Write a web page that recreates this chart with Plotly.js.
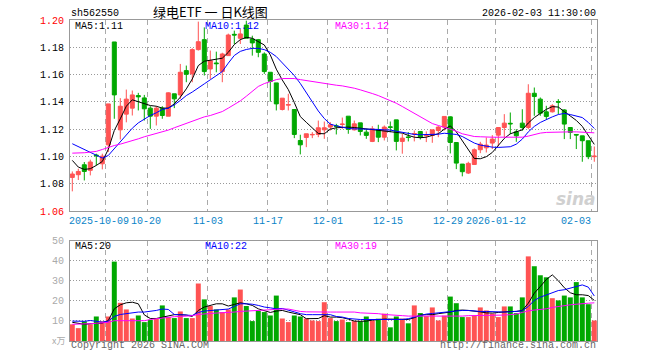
<!DOCTYPE html>
<html><head><meta charset="utf-8">
<script src="https://cdn.plot.ly/plotly-3.0.1.min.js"></script>
<style>html,body{margin:0;padding:0;background:#fff}#chart{width:660px;height:360px}</style>
</head><body><div id="chart"></div>
<script>
// ---------------- data ----------------
const dateIdx    = [6, 13, 23, 33, 43, 53, 63, 71, 87];
const dateLabels = ['2025-10-09','10-20','11-03','11-17','12-01','12-15','12-29','2026-01-12','02-03'];

// R = red (up) candle, G = green (down) candle
const dirs = 'RRGRGRRGRRRGGGRGRGRGRRGRGRRGRGGGGGGRRGGRRRRRGRGRGGRGRGGRGRGRRRRGGGRRRRRRRGGGRGGGRGGGGGGR';

const open = [
1.0846,1.0866,1.0939,1.0898,1.1010,1.0946,1.1085,1.1839,1.1195,1.1310,
1.1354,1.1446,1.1429,1.1354,1.1295,1.1354,1.1295,1.1459,1.1451,1.1629,
1.1605,1.1783,1.1856,1.1641,1.1685,1.1622,1.1739,1.1895,1.1866,1.1963,
1.1861,1.1856,1.1751,1.1617,1.1539,1.1344,1.1376,1.1344,1.1117,1.1139,
1.1158,1.1161,1.1195,1.1215,1.1224,1.1234,1.1295,1.1195,1.1246,1.1178,
1.1110,1.1195,1.1141,1.1217,1.1268,1.1110,1.1143,1.1164,1.1183,1.1152,
1.1154,1.1190,1.1215,1.1290,1.1102,1.0944,1.0878,1.0941,1.1049,1.1063,
1.1098,1.1156,1.1212,1.1243,1.1180,1.1244,1.1212,1.1463,1.1420,1.1327,
1.1327,1.1402,1.1341,1.1212,1.1161,1.1151,1.1115,1.0998];
const close = [
1.0871,1.0890,1.0890,1.0959,1.1005,1.1002,1.1385,1.1451,1.1368,1.1420,
1.1451,1.1437,1.1349,1.1295,1.1354,1.1300,1.1466,1.1422,1.1617,1.1602,
1.1783,1.1841,1.1622,1.1702,1.1680,1.1751,1.1890,1.1890,1.1898,1.1866,
1.1832,1.1763,1.1622,1.1549,1.1385,1.1427,1.1380,1.1161,1.1085,1.1166,
1.1161,1.1210,1.1210,1.1232,1.1220,1.1237,1.1198,1.1239,1.1183,1.1154,
1.1202,1.1141,1.1215,1.1213,1.1110,1.1134,1.1139,1.1168,1.1141,1.1156,
1.1195,1.1215,1.1293,1.1102,1.0951,1.0888,1.0949,1.1049,1.1090,1.1083,
1.1127,1.1212,1.1244,1.1239,1.1151,1.1212,1.1463,1.1439,1.1317,1.1293,
1.1371,1.1398,1.1237,1.1176,1.1157,1.1115,1.0998,1.1002];
const high = [
1.0890,1.0910,1.0959,1.0976,1.1020,1.1020,1.1385,1.1839,1.1427,1.1490,
1.1483,1.1466,1.1451,1.1368,1.1368,1.1368,1.1470,1.1459,1.1678,1.1666,
1.1793,1.1988,1.1946,1.1776,1.1768,1.1760,1.1900,1.1922,1.1934,1.1995,
1.1885,1.1861,1.1763,1.1617,1.1539,1.1427,1.1459,1.1344,1.1159,1.1166,
1.1178,1.1263,1.1256,1.1251,1.1239,1.1285,1.1295,1.1263,1.1246,1.1202,
1.1222,1.1232,1.1227,1.1256,1.1268,1.1166,1.1178,1.1190,1.1183,1.1183,
1.1195,1.1222,1.1293,1.1293,1.1102,1.0944,1.0961,1.1059,1.1107,1.1139,
1.1156,1.1212,1.1310,1.1322,1.1200,1.1346,1.1529,1.1505,1.1432,1.1371,
1.1383,1.1420,1.1346,1.1212,1.1161,1.1151,1.1115,1.1073];
const low = [
1.0744,1.0827,1.0824,1.0861,1.0934,1.0905,1.1032,1.1276,1.1124,1.1250,
1.1300,1.1337,1.1263,1.1202,1.1227,1.1276,1.1295,1.1354,1.1422,1.1544,
1.1544,1.1776,1.1593,1.1568,1.1617,1.1544,1.1739,1.1824,1.1824,1.1866,
1.1739,1.1727,1.1605,1.1402,1.1337,1.1337,1.1337,1.1134,1.1015,1.1068,
1.1134,1.1141,1.1129,1.1190,1.1161,1.1202,1.1166,1.1190,1.1154,1.1129,
1.1105,1.1105,1.1117,1.1178,1.1044,1.1020,1.1110,1.1110,1.1124,1.1105,
1.1100,1.1141,1.1190,1.1022,1.0907,1.0854,1.0871,1.0937,1.1024,1.1029,
1.1054,1.1073,1.1139,1.1163,1.1107,1.1188,1.1200,1.1298,1.1298,1.1273,
1.1322,1.1310,1.1127,1.1127,1.1054,1.0961,1.0980,1.0961];
const ma5 = [
1.0971,1.0922,1.0905,1.0910,1.0934,1.0963,1.1052,1.1190,1.1276,1.1368,
1.1415,1.1402,1.1385,1.1373,1.1368,1.1354,1.1354,1.1385,1.1434,1.1495,
1.1568,1.1666,1.1698,1.1707,1.1715,1.1720,1.1763,1.1820,1.1856,1.1873,
1.1866,1.1841,1.1817,1.1744,1.1640,1.1560,1.1490,1.1395,1.1292,1.1250,
1.1210,1.1168,1.1166,1.1200,1.1210,1.1215,1.1215,1.1212,1.1207,1.1202,
1.1195,1.1190,1.1185,1.1183,1.1178,1.1171,1.1154,1.1141,1.1137,1.1141,
1.1154,1.1166,1.1200,1.1224,1.1180,1.1115,1.1041,1.0985,1.0983,1.0998,
1.1029,1.1078,1.1132,1.1166,1.1178,1.1195,1.1245,1.1285,1.1315,1.1345,
1.1365,1.1362,1.1329,1.1297,1.1264,1.1220,1.1150,1.1088];
const ma10 = [
1.1093,1.1073,1.1051,1.1032,1.1007,1.0988,1.1007,1.1056,1.1105,1.1154,
1.1207,1.1246,1.1276,1.1300,1.1320,1.1344,1.1354,1.1378,1.1410,1.1446,
1.1472,1.1505,1.1532,1.1562,1.1590,1.1622,1.1684,1.1740,1.1770,1.1784,
1.1792,1.1792,1.1783,1.1763,1.1732,1.1688,1.1641,1.1593,1.1535,1.1465,
1.1395,1.1333,1.1278,1.1237,1.1224,1.1215,1.1205,1.1202,1.1202,1.1202,
1.1200,1.1198,1.1195,1.1193,1.1185,1.1176,1.1166,1.1161,1.1159,1.1159,
1.1159,1.1163,1.1170,1.1166,1.1161,1.1146,1.1120,1.1098,1.1083,1.1073,
1.1068,1.1066,1.1066,1.1071,1.1090,1.1127,1.1180,1.1220,1.1249,1.1271,
1.1290,1.1307,1.1315,1.1307,1.1295,1.1285,1.1249,1.1205];
const ma30 = [
1.1024,1.1024,1.1027,1.1032,1.1037,1.1051,1.1068,1.1080,1.1090,1.1102,
1.1115,1.1129,1.1144,1.1156,1.1166,1.1178,1.1193,1.1210,1.1227,1.1244,
1.1261,1.1276,1.1290,1.1300,1.1315,1.1329,1.1354,1.1378,1.1407,1.1441,
1.1480,1.1513,1.1534,1.1551,1.1563,1.1571,1.1573,1.1571,1.1563,1.1556,
1.1546,1.1539,1.1532,1.1527,1.1522,1.1517,1.1510,1.1500,1.1488,1.1476,
1.1461,1.1446,1.1429,1.1412,1.1390,1.1366,1.1341,1.1312,1.1285,1.1261,
1.1241,1.1227,1.1214,1.1200,1.1185,1.1166,1.1154,1.1146,1.1144,1.1141,
1.1141,1.1141,1.1141,1.1141,1.1141,1.1141,1.1149,1.1161,1.1171,1.1176,
1.1178,1.1180,1.1180,1.1180,1.1180,1.1178,1.1176,1.1173];
// volume in 万
const volume = [
8.3,6.4,9.8,8.3,12.2,9.8,12.2,39.5,19.0,15.7,
11.2,12.7,9.4,10.5,11.1,17.7,11.9,11.4,14.7,11.4,
11.4,28.6,20.7,17.4,15.7,14.4,15.7,21.7,25.6,17.4,
9.9,15.0,14.4,12.7,22.6,11.2,9.4,12.7,12.2,11.2,
10.2,9.9,19.3,11.4,9.9,10.7,9.4,9.9,9.8,12.2,
10.2,11.1,13.6,6.8,12.2,11.1,8.8,17.7,13.9,12.4,
16.7,10.2,12.6,22.1,18.8,11.9,11.9,12.6,16.7,15.2,
13.6,11.9,17.2,17.2,13.9,21.7,42.1,37.2,32.7,31.7,
21.3,20.2,22.6,21.7,29.3,21.7,18.3,10.2];
const vma5 = [
9.3,8.8,8.3,8.6,8.9,8.9,10.2,16.0,18.0,19.0,
19.3,18.5,13.0,11.2,11.2,11.9,12.6,13.1,13.1,12.9,
12.2,15.2,16.9,17.7,18.5,18.5,17.4,18.2,19.0,18.5,
17.7,16.0,15.2,14.2,14.9,15.2,14.4,13.6,13.1,11.1,
11.1,11.2,12.6,11.9,11.9,11.6,10.9,9.9,9.8,9.9,
10.4,10.7,10.9,10.9,10.9,10.7,10.7,11.6,12.9,13.1,
13.1,13.6,13.9,14.4,15.2,15.4,15.2,15.0,14.5,14.0,
13.9,14.2,14.5,14.7,14.7,15.2,18.8,23.8,27.1,30.6,
32.9,30.0,26.5,24.0,23.0,23.0,22.6,20.2];
const vma10 = [
9.9,9.9,9.8,10.2,9.8,9.4,9.9,12.2,13.2,13.6,
13.7,14.4,14.4,14.7,15.2,15.9,15.7,13.2,13.2,12.9,
12.7,14.2,14.9,15.2,15.5,15.7,15.9,17.2,18.5,18.5,
18.3,17.7,16.9,16.5,16.0,16.2,15.5,14.5,13.6,13.1,
13.1,13.1,13.1,13.1,12.2,11.9,11.2,10.9,10.7,10.7,
10.7,10.6,10.6,10.7,10.7,10.7,11.1,11.9,12.7,13.4,
13.7,14.0,14.4,14.7,14.9,15.2,15.2,14.9,14.7,14.7,
14.5,14.4,14.4,14.5,14.7,15.0,17.2,20.2,21.8,22.8,
24.1,25.1,25.5,26.3,27.1,27.9,26.8,22.4];
const vma30 = [
8.3,8.3,8.4,8.6,8.8,8.9,9.3,10.1,10.1,10.1,
10.1,10.1,10.1,10.7,11.1,11.4,11.7,12.1,12.2,12.4,
12.6,13.2,13.6,13.7,13.9,14.0,14.2,14.4,14.7,14.9,
15.0,15.0,15.2,15.4,15.7,15.9,15.9,15.2,14.7,14.5,
14.4,14.4,14.4,14.4,14.4,14.4,14.4,14.4,14.0,13.9,
13.9,13.6,13.2,13.1,12.7,12.6,12.4,12.4,12.2,12.2,
12.2,12.2,12.2,12.2,12.4,12.4,12.6,12.6,12.6,12.7,
12.7,12.7,12.9,13.1,13.4,14.2,15.0,15.4,15.7,16.0,
16.7,17.2,17.5,18.0,18.3,18.7,18.8,19.0];

const priceTicks = [1.06,1.08,1.10,1.12,1.14,1.16,1.18,1.20];
const priceTickText = ['1.06','1.08','1.10','1.12','1.14','1.16','1.18','1.20'];
const volTicks = [10,20,30,40,50];
const volTickText = ['10','20','30','40','50'];

const titleText = '绿电ETF 一 日K线图';
const codeText = 'sh562550';
const timeText = '2026-02-03 11:30:00';
const priceMaText = ['MA5:1.11','MA10:1.12','MA30:1.12'];
const volMaText = ['MA5:20','MA10:22','MA30:19'];
const volUnit = 'x万';

// ---------------- styling / geometry ----------------
const RED = '#FF5353', GREEN = '#00A800';
const MA_COLORS = ['#000000', '#0000FF', '#FF00FF'];
const MONO = 'Liberation Mono, DejaVu Sans Mono, monospace';
const L = 70, R = 597, T = 20, B = 341;
const px = x => (x - L) / (R - L);
const py = y => (B - y) / (B - T);
const X_RANGE = [-0.383, 87.45];
const GRID_OFF = -0.4;

const idx = open.map((_, i) => i);
const pick = (arr, d) => arr.filter((_, i) => dirs[i] === d);

function candles(d, color) {
  return {
    type: 'candlestick', xaxis: 'x', yaxis: 'y',
    x: pick(idx, d), open: pick(open, d), high: pick(high, d), low: pick(low, d), close: pick(close, d),
    increasing: {line: {color: color, width: 1}, fillcolor: color},
    decreasing: {line: {color: color, width: 1}, fillcolor: color},
    whiskerwidth: 0, hoverinfo: 'skip', showlegend: false
  };
}
function line(y, color, xa, ya) {
  return {type: 'scatter', mode: 'lines', x: idx, y: y, xaxis: xa, yaxis: ya,
          line: {color: color, width: 1}, hoverinfo: 'skip', showlegend: false};
}

const traces = [
  candles('R', RED), candles('G', GREEN),
  line(ma5, MA_COLORS[0], 'x', 'y'), line(ma10, MA_COLORS[1], 'x', 'y'), line(ma30, MA_COLORS[2], 'x', 'y'),
  {type: 'bar', x: idx, y: volume, xaxis: 'x2', yaxis: 'y2',
   marker: {color: idx.map(i => dirs[i] === 'R' ? RED : GREEN), line: {width: 0}},
   hoverinfo: 'skip', showlegend: false},
  line(vma5, MA_COLORS[0], 'x2', 'y2'), line(vma10, MA_COLORS[1], 'x2', 'y2'), line(vma30, MA_COLORS[2], 'x2', 'y2')
];

const gridVals = dateIdx.map(i => i + GRID_OFF);
const xCommon = {
  range: X_RANGE, tickvals: gridVals, showticklabels: false, ticks: '',
  showgrid: true, gridcolor: '#AAAAAA', griddash: '5px,4px', gridwidth: 1,
  showline: true, mirror: true, linecolor: '#999999', linewidth: 1, zeroline: false, fixedrange: true
};

const ann = [];
function text(t, x, y, anchor, color, size, family, extra) {
  ann.push(Object.assign({text: t, xref: 'paper', yref: 'paper', x: px(x), y: py(y),
    xanchor: anchor, yanchor: 'middle', showarrow: false,
    font: {family: family || MONO, size: size || 10, color: color}, borderpad: 0}, extra || {}));
}
text(codeText, 70, 13, 'left', '#000');
text(titleText, 210, 11.5, 'center', '#000', 13, 'Noto Sans CJK SC');
text(timeText, 597, 13, 'right', '#000');
text(priceMaText[0], 74, 26, 'left', MA_COLORS[0]);
text(priceMaText[1], 204, 26, 'left', MA_COLORS[1]);
text(priceMaText[2], 334, 26, 'left', MA_COLORS[2]);
text(volMaText[0], 74, 246, 'left', MA_COLORS[0]);
text(volMaText[1], 204, 246, 'left', MA_COLORS[1]);
text(volMaText[2], 334, 246, 'left', MA_COLORS[2]);
text(volUnit, 66, 340, 'right', '#AAAAAA', 9, 'Noto Sans CJK SC');
text('Copyright 2026 SINA.COM', 70, 346, 'left', '#666666');
text('http://finance.sina.com.cn', 597, 346, 'right', '#666666');
text('sina', 597, 199, 'right', '#D0D0D0', 17, 'DejaVu Sans', {font: {family: 'DejaVu Sans', size: 17, color: '#D0D0D0', weight: 'bold', style: 'italic'}});
// date labels under the price panel (first two sit side by side, last one ends at its grid line)
dateIdx.forEach((d, k) => {
  let anchor = 'center', x = d + GRID_OFF;
  if (k === 0) { anchor = 'right'; x = d + GRID_OFF + 4.0; }
  if (k === 1) { anchor = 'left'; x = d + GRID_OFF - 3.0; }
  if (k === dateIdx.length - 1) anchor = 'right';
  ann.push({text: dateLabels[k], xref: 'x', yref: 'paper', x: x, y: py(221),
    xanchor: anchor, yanchor: 'middle', showarrow: false,
    font: {family: MONO, size: 10, color: '#0A84C8'}, borderpad: 0});
});

const layout = {
  width: 660, height: 360, margin: {l: L, r: 660 - R, t: T, b: 360 - B, pad: 0},
  paper_bgcolor: '#FFFFFF', plot_bgcolor: '#FFFFFF', showlegend: false,
  boxgap: 0.333, boxgroupgap: 0, bargap: 0.17,
  xaxis: Object.assign({anchor: 'y', domain: [0, 1], rangeslider: {visible: false}}, xCommon),
  xaxis2: Object.assign({anchor: 'y2', domain: [0, 1], matches: 'x'}, xCommon),
  yaxis: {
    anchor: 'x', domain: [py(211), 1], range: [1.06, 1.20],
    tickvals: priceTicks,
    ticktext: priceTickText.map((t, k) => (k === 0 || k === priceTickText.length - 1) ? '<span style="color:#FF0000">' + t + '</span>' : t),
    tickfont: {family: MONO, size: 10, color: '#000000'},
    ticks: 'outside', ticklen: 3, tickcolor: 'rgba(0,0,0,0)',
    showgrid: true, gridcolor: '#999999', griddash: '1px,2px', gridwidth: 1,
    showline: true, mirror: true, linecolor: '#999999', linewidth: 1, zeroline: false, fixedrange: true
  },
  yaxis2: {
    anchor: 'x2', domain: [0, py(240.5)], range: [0, 50],
    tickvals: volTicks, ticktext: volTickText,
    tickfont: {family: MONO, size: 10, color: '#AAAAAA'},
    ticks: 'outside', ticklen: 3, tickcolor: 'rgba(0,0,0,0)',
    showgrid: true, gridcolor: '#999999', griddash: '1px,2px', gridwidth: 1,
    showline: true, mirror: true, linecolor: '#999999', linewidth: 1, zeroline: false, fixedrange: true
  },
  annotations: ann
};

Plotly.newPlot('chart', traces, layout, {staticPlot: true, displayModeBar: false});
</script></body></html>
